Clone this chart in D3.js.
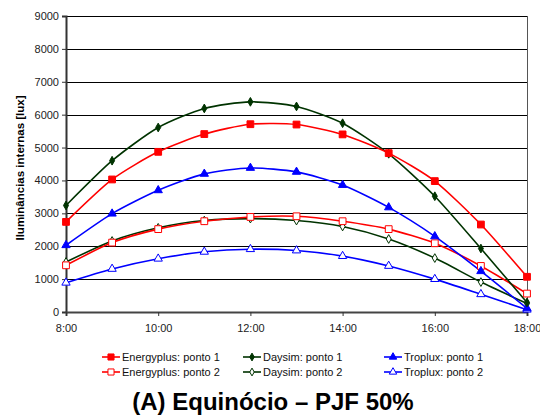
<!DOCTYPE html>
<html><head><meta charset="utf-8">
<script src="https://cdn.jsdelivr.net/npm/d3@7"></script>
<style>body{margin:0;background:#fff}svg{font-family:Arial,"Liberation Sans",sans-serif}</style>
</head><body><svg id="c" width="540" height="417"></svg>
<script>
const hours = [8,9,10,11,12,13,14,15,16,17,18];
const xTicks = [8,10,12,14,16,18];
const yTicks = [0,1000,2000,3000,4000,5000,6000,7000,8000,9000];
const energyplus1 = [2740,4030,4870,5410,5710,5700,5400,4830,3980,2660,1070];
const daysim1     = [3240,4600,5610,6190,6390,6250,5740,4810,3520,1930,290];
const troplux1    = [2030,2990,3700,4200,4380,4260,3860,3180,2300,1240,110];
const energyplus2 = [1420,2110,2520,2760,2890,2910,2760,2520,2090,1400,560];
const daysim2     = [1520,2160,2560,2780,2840,2780,2600,2220,1640,910,260];
const troplux2    = [890,1310,1620,1830,1910,1870,1700,1400,1000,540,70];
const seriesNames = ["Energyplus: ponto 1","Daysim: ponto 1","Troplux: ponto 1","Energyplus: ponto 2","Daysim: ponto 2","Troplux: ponto 2"];
const title = "(A) Equinócio – PJF 50%";
const yTitle = "Iluminâncias internas [lux]";

const series = [
  {name:seriesNames[0], v:energyplus1, color:"#ff0000", sym:"square", fill:true},
  {name:seriesNames[1], v:daysim1, color:"#003300", sym:"diamond", fill:true},
  {name:seriesNames[2], v:troplux1, color:"#0000ff", sym:"triangle", fill:true},
  {name:seriesNames[3], v:energyplus2, color:"#ff0000", sym:"square", fill:false},
  {name:seriesNames[4], v:daysim2, color:"#003300", sym:"diamond", fill:false},
  {name:seriesNames[5], v:troplux2, color:"#0000ff", sym:"triangle", fill:false}
];

const svg = d3.select("#c");
const L=66, R=527, T=16, B=312;
const x = d3.scaleLinear().domain([8,18]).range([L,R]);
const y = d3.scaleLinear().domain([0,9000]).range([B,T]);

// gridlines
svg.append("g").selectAll("line").data(yTicks.filter(d=>d>0)).join("line")
  .attr("x1",L).attr("x2",R).attr("y1",d=>Math.round(y(d))+0.5).attr("y2",d=>Math.round(y(d))+0.5)
  .attr("stroke","#000").attr("stroke-width",1);
// right border
svg.append("line").attr("x1",R+0.5).attr("x2",R+0.5).attr("y1",T).attr("y2",B).attr("stroke","#555").attr("stroke-width",1);

// y axis
const ya = svg.append("g").attr("transform",`translate(${L},0)`)
  .call(d3.axisLeft(y).tickValues(yTicks).tickFormat(d3.format("d")).tickSize(4).tickPadding(3));
ya.select(".domain").attr("stroke","#333").attr("stroke-width",2);
ya.selectAll(".tick line").attr("stroke","#333");
ya.selectAll("text").attr("font-size",11).attr("fill","#222").attr("font-family","Arial, Liberation Sans");

// x axis
const xa = svg.append("g").attr("transform",`translate(0,${B})`)
  .call(d3.axisBottom(x).tickValues(xTicks).tickFormat(d=>d+":00").tickSize(4).tickPadding(8));
xa.select(".domain").attr("stroke","#444").attr("stroke-width",2);
xa.selectAll(".tick line").attr("stroke","#333");
xa.selectAll("text").attr("font-size",11).attr("fill","#222").attr("font-family","Arial, Liberation Sans");

// y title
svg.append("text").attr("transform",`translate(24,168) rotate(-90)`)
  .attr("text-anchor","middle").attr("font-size",11.5).attr("font-weight","bold").text(yTitle);

const line = d3.line().x((d,i)=>x(hours[i])).y(d=>y(d)).curve(d3.curveCardinal.tension(0.3));
const symMap = {square:d3.symbolSquare, diamond:d3.symbolDiamond, triangle:d3.symbolTriangle};
const symSize = {square:46, diamond:22, triangle:30};

const order = [5,4,3,2,1,0];
order.forEach(k=>{
  const s = series[k];
  svg.append("path").attr("d",line(s.v)).attr("fill","none").attr("stroke",s.color).attr("stroke-width",1.6);
});
order.forEach(k=>{
  const s = series[k];
  const sym = d3.symbol().type(symMap[s.sym]).size(symSize[s.sym]);
  svg.append("g").selectAll("path").data(s.v).join("path")
    .attr("transform",(d,i)=>`translate(${x(hours[i])},${y(d)})`)
    .attr("d",sym).attr("fill",s.fill?s.color:"#fff").attr("stroke",s.color).attr("stroke-width",1);
});

// legend
const legX=[102,243,384], legY=[357,372];
series.forEach((s,i)=>{
  const col=i%3, row=Math.floor(i/3);
  const g = svg.append("g").attr("transform",`translate(${legX[col]},${legY[row]})`);
  g.append("line").attr("x1",0).attr("x2",18).attr("stroke",s.color).attr("stroke-width",1.6);
  g.append("path").attr("transform","translate(9,0)").attr("d",d3.symbol().type(symMap[s.sym]).size(symSize[s.sym]*0.8)())
    .attr("fill",s.fill?s.color:"#fff").attr("stroke",s.color);
  g.append("text").attr("x",20).attr("y",4).attr("font-size",11).attr("fill","#111").text(s.name);
});

svg.append("text").attr("x",273).attr("y",410).attr("text-anchor","middle").attr("font-size",24).attr("font-weight","bold").text(title);
</script></body></html>
